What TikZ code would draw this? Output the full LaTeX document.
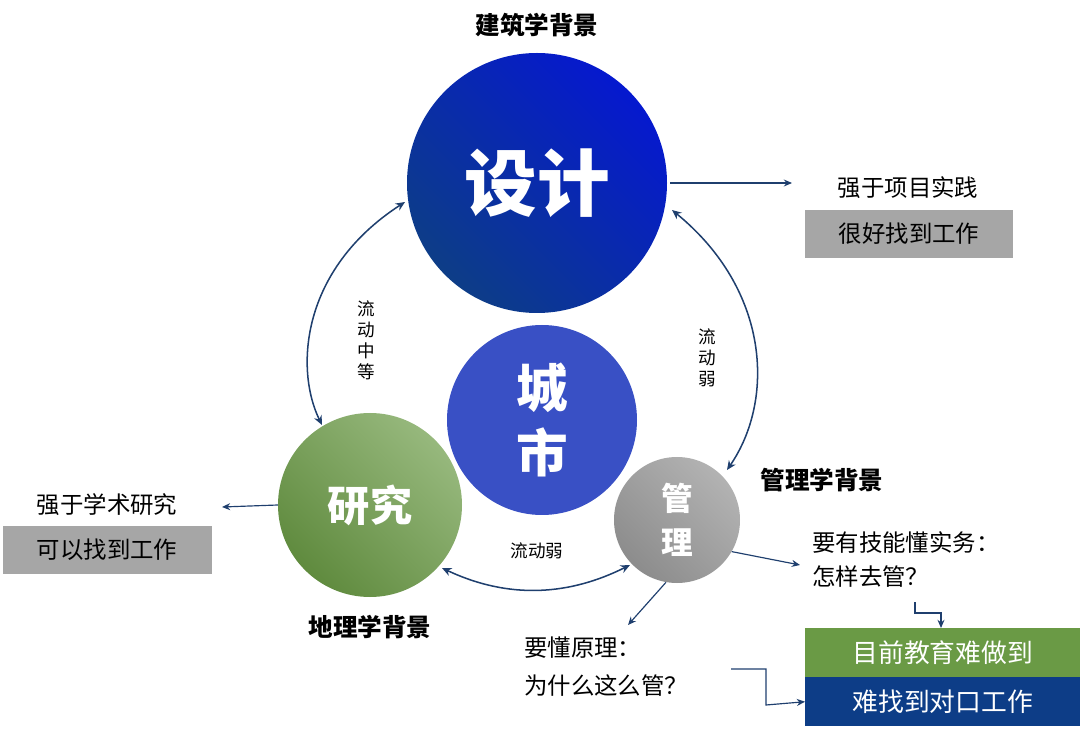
\documentclass[tikz,border=0pt]{standalone}
\usepackage{fontspec}
\setmainfont{Noto Sans CJK SC}
\newfontfamily\cjkb{Noto Sans CJK SC Black}
\usetikzlibrary{arrows.meta}
\definecolor{dblue}{HTML}{0D3D87}
\definecolor{arr}{HTML}{1F3F6E}
\definecolor{grn}{HTML}{6A9A45}
\definecolor{gbox}{HTML}{A6A6A6}
\tikzset{
  circ/.style={circle,inner sep=0pt},
  lbl/.style={font=\fontsize{20}{24}\selectfont,text=black},
  small/.style={font=\fontsize{15}{18}\selectfont,text=black,align=center},
  head/.style={font=\bfseries\fontsize{21}{24}\selectfont,text=black},
  con/.style={draw=arr,line width=1pt,-{Stealth[length=7pt,width=6pt]}},
  dcon/.style={draw=arr,line width=1.3pt,{Stealth[length=8pt,width=7pt]}-{Stealth[length=8pt,width=7pt]}},
  boxw/.style={font=\fontsize{22}{26}\selectfont,text=white,minimum height=41pt,inner sep=0pt}
}
\begin{document}
\begin{tikzpicture}[x=0.03cm,y=-0.03cm]
\useasboundingbox (0,0) rectangle (1080,738);
% circles
\shade[left color=blue!60!dblue,right color=dblue,shading angle=-45] (537,183) circle (130);
\node[circ,minimum size=260*0.03cm] (sj) at (537,183) {};
\node[text=white,font=\cjkb\fontsize{62}{64}\selectfont] at (537,183) {设计};
\fill[color=blue!40!dblue!80!white] (542,420) circle (95);
\node[circ,minimum size=190*0.03cm] (cs) at (542,420) {};
\node[text=white,font=\cjkb\fontsize{44}{56}\selectfont,align=center] at (542,420) {城\\市};
\shade[left color=grn!70!white,right color=grn!90!black,shading angle=-45] (370,505) circle (92);
\node[circ,minimum size=184*0.03cm] (yj) at (370,505) {};
\node[text=white,font=\cjkb\fontsize{36}{40}\selectfont] at (370,505) {研究};
\shade[left color=gray!60,right color=gray!110!black,shading angle=-45] (677,520) circle (63);
\node[circ,minimum size=126*0.03cm] (gl) at (677,520) {};
\node[text=white,font=\cjkb\fontsize{27}{38}\selectfont,align=center] at (677,520) {管\\理};
% headers
\node[head] (h1) at (537,25) {建筑学背景};
\node[head] (h2) at (822,480) {管理学背景};
\node[head] (h3) at (370,627) {地理学背景};
% right top
\node[lbl] (t1) at (908,188) {强于项目实践};
\node[lbl,fill=gbox,minimum width=208*0.03cm,minimum height=48*0.03cm,inner sep=0pt] (b1) at (909,234) {很好找到工作};
\coordinate (a1s) at (670,183); \coordinate (a1e) at (792,183);
\draw[con] (a1s) -- (a1e);
% left
\node[lbl] (t2) at (107,505) {强于学术研究};
\node[lbl,fill=gbox,minimum width=209*0.03cm,minimum height=47*0.03cm,inner sep=0pt] (b2) at (107,550) {可以找到工作};
\draw[con] (yj.180) -- (222,507);
% manage texts
\node[lbl,anchor=west] (t3) at (808,543) {要有技能懂实务：};
\node[lbl,anchor=west] (t4) at (808,577) {怎样去管？};
\node[lbl,anchor=west] (t5) at (520,648) {要懂原理：};
\node[lbl,anchor=west] (t6) at (520,686) {为什么这么管？};
\draw[con] (gl.-30) -- (800,565);
\draw[con] (gl.-100) -- (628,625);
% boxes
\node[boxw,fill=grn,minimum width=275*0.03cm,minimum height=49*0.03cm,anchor=north west] (g1) at (805,628) {目前教育难做到};
\node[boxw,fill=dblue,minimum width=275*0.03cm,minimum height=49*0.03cm,anchor=north west] (g2) at (805,677) {难找到对口工作};
\coordinate (e1) at (915,602);
\draw[con] (e1) -- (915,613) -- (941,613) -- (g1.north -| 941,0);
\coordinate (e2) at (731,669);
\draw[con] (e2) -- (766,669) -- (766,705) -- (g2.west);
% curved arrows
\draw[dcon] (405,202) .. controls (300,270) and (295,370) .. (322,425);
\draw[dcon] (672,210) .. controls (770,290) and (775,400) .. (727,470);
\draw[dcon] (442,568) .. controls (510,600) and (570,595) .. (630,565);
\node[small] (l1) at (366,340) {流\\动\\中\\等};
\node[small] (l2) at (707,358) {流\\动\\弱};
\node[small] (l3) at (537,551) {流动弱};
\end{tikzpicture}
\end{document}
